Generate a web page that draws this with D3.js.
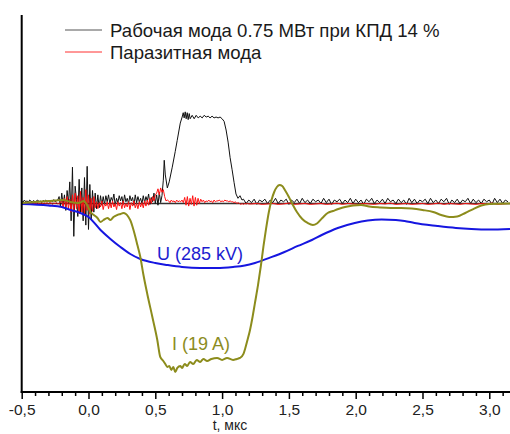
<!DOCTYPE html>
<html>
<head>
<meta charset="utf-8">
<script src="https://cdn.jsdelivr.net/npm/d3@7"></script>
<style>
  html, body { margin: 0; padding: 0; background: #fff; }
  svg { display: block; font-family: "Liberation Sans", Arial, sans-serif; }
</style>
</head>
<body>
<script>
// ---------------- DATA ----------------
const xMajorTicks = [-0.5, 0, 0.5, 1, 1.5, 2, 2.5, 3];
const xLabel = "t, мкс";
const legendLabels = ["Рабочая мода 0.75 МВт при КПД 14 %", "Паразитная мода"];
const uLabel = "U (285 kV)";
const iLabel = "I (19 A)";

// Black trace (working mode), sampled segments
const blackLeadStart = -0.5, blackLeadStep = 0.01;
const blackLead = [
  0.03,0.01,0.04,0.02,0.03,0.015,0.04,0.025,0.02,0.035,
  0.015,0.03,0.04,0.02,0.03,0.01,0.035,0.025,0.04,0.02,
  0.03,0.015,0.035,0.02,0.045,0.02,0.03,0.04,
  0.08,-0.04,0.12,-0.02,0.1,-0.08,0.15,0.0,
  0.25,-0.2,0.42,-0.38,0.2,
  0.05,-0.15,0.28,-0.1,0.18,-0.2,0.3,
  -0.25,0.43,-0.3,0.22,-0.18,
  0.15,-0.1,0.12,-0.06,0.1,-0.05,0.09,-0.02,
  0.08,-0.01,0.09,0.02,0.1,0.0,0.07,0.03,0.11,-0.02,
  0.06,0.01,0.09,0.03,0.08,-0.01,0.1,0.02,0.06,0.0,
  0.09,0.03,0.07,-0.02,0.1,0.01,0.08,0.02,0.06,0.0,
  0.09,0.01,0.08,0.03,0.11,-0.01,0.07,0.02,0.12,0.0,
  0.1,-0.02,0.13,0.01,0.09
];
const blackPulseT = [0.56,0.567,0.575,0.59,0.604,0.627,0.649,0.664,0.687,0.701,0.709,0.716,0.724,0.731,0.739,0.746,0.754,0.761,0.776,0.791,0.806,0.821,0.836,0.851,0.866,0.881,0.896,0.91,0.925,0.94,0.955,0.97,0.985,1.0,1.015,1.03,1.045,1.06,1.075,1.09,1.104,1.119,1.134,1.149];
const blackPulseV = [0.27,0.5,0.33,0.18,0.25,0.42,0.6,0.73,0.93,1.0,1.05,0.99,1.06,0.98,1.05,0.97,1.04,0.98,1.02,0.98,1.02,0.99,1.01,0.99,1.02,1.0,1.01,0.99,1.01,0.99,1.0,0.99,1.0,0.98,0.95,0.85,0.71,0.53,0.39,0.24,0.11,0.06,0.09,0.04];
const blackTailStart = 1.16, blackTailStep = 0.02;
const blackTail = [
  0.05,0.0,0.04,0.01,0.05,-0.01,0.04,0.02,0.05,0.0,
  0.04,0.01,0.06,0.0,0.04,0.02,0.05,-0.01,0.04,0.01,
  0.05,0.0,0.06,0.01,0.04,0.0,0.05,0.02,0.04,0.0,
  0.06,0.01,0.05,-0.01,0.04,0.02,0.05,0.0,0.04,0.01,
  0.06,0.0,0.05,0.01,0.04,-0.01,0.05,0.02,0.06,0.0,
  0.04,0.01,0.05,0.0,0.06,0.02,0.04,0.0,0.05,0.01,
  0.04,-0.01,0.06,0.01,0.05,0.0,0.04,0.02,0.05,0.0,
  0.06,0.01,0.04,0.0,0.05,0.02,0.06,-0.01,0.04,0.01,
  0.05,0.0,0.04,0.02,0.06,0.0,0.05,0.01,0.04,0.0,
  0.05,0.02,0.04,-0.01,0.06,0.01,0.05,0.0,0.04,0.02
];

// Red trace (parasitic mode)
const redLeadStart = -0.5, redLeadStep = 0.01;
const redLead = [
  0.0,0.01,-0.01,0.005,0.0,0.01,-0.005,0.0,0.01,-0.01,
  0.005,0.0,0.01,-0.005,0.0,0.01,-0.01,0.005,0.0,0.01,
  -0.005,0.0,0.01,-0.01,0.005,0.0,0.01,-0.005,0.0,0.01,
  0.03,-0.05,0.06,-0.04,0.08,-0.06,0.05,-0.1,0.1,-0.08,
  0.12,-0.06,0.09,-0.12,0.14,-0.1,0.07,-0.13,0.16,-0.08,
  0.1,-0.12,0.06,-0.09,0.08,-0.05,
  0.02,-0.06,0.01,-0.04,0.03,-0.07,0.0,-0.03,0.02,-0.06,
  0.01,-0.05,0.03,-0.04,0.0,-0.07,0.02,-0.03,0.01,-0.06,
  0.03,-0.05,0.0,-0.04,0.02,-0.07,0.01,-0.03,0.03,-0.05,
  0.0,-0.06,0.02,-0.04,0.01,-0.05,0.03,-0.03,0.04,-0.02,
  0.06,0.0,0.08,0.03,0.1
];
const redBumpT = [0.51,0.52,0.53,0.54,0.55,0.56,0.57,0.58,0.59];
const redBumpV = [0.12,0.17,0.1,0.18,0.13,0.16,0.08,0.03,0.04];
const redMidStart = 0.60, redMidStep = 0.01;
const redMid = [
  0.03,0.01,0.04,0.02,0.03,0.01,0.04,0.02,0.03,0.02,0.04,0.01,
  0.07,-0.02,0.08,-0.03,0.06,-0.01,0.09,-0.03,0.07,-0.02,0.06,0.0,0.05,
  0.02,0.04,0.01,0.03,0.02,0.04,0.02,0.03,0.01,0.04,
  0.02,0.03,0.03,0.04,0.02,0.03,0.02,0.04,0.03,0.03,
  0.02,0.03,0.02,0.02,0.01,0.02,0.0,0.01,0.0,-0.01,
  0.0,-0.01,0.0,-0.005,0.0,-0.005
];
const redTailStart = 1.22, redTailStep = 0.04;
const redTail = [
  -0.005,0.0,-0.01,-0.005,0.0,-0.01,-0.005,0.005,-0.01,-0.005,
  0.0,-0.01,-0.005,0.0,-0.01,-0.005,0.005,-0.01,0.0,-0.005,
  -0.01,0.0,-0.005,-0.01,0.0,-0.005,0.005,-0.01,-0.005,0.0,
  -0.01,-0.005,0.0,-0.01,-0.005,0.005,-0.01,0.0,-0.005,-0.01,
  0.0,-0.005,-0.01,0.0,-0.005,0.005,-0.01,-0.005,0.0
];

// Voltage U (blue)
const uT = [-0.5,-0.3,-0.2,-0.134,-0.06,0.0,0.09,0.164,0.239,0.313,0.388,0.5,0.59,0.7,0.836,0.96,1.082,1.17,1.246,1.373,1.467,1.567,1.672,1.746,1.866,1.993,2.09,2.194,2.3,2.366,2.44,2.612,2.75,2.866,3.0,3.155];
const uV = [-0.006,-0.023,-0.04,-0.075,-0.11,-0.156,-0.306,-0.41,-0.503,-0.584,-0.642,-0.688,-0.711,-0.734,-0.746,-0.746,-0.734,-0.717,-0.688,-0.618,-0.561,-0.491,-0.422,-0.364,-0.283,-0.225,-0.197,-0.185,-0.191,-0.202,-0.225,-0.26,-0.283,-0.295,-0.301,-0.295];

// Current I (olive)
const iT = [-0.5,-0.4,-0.3,-0.187,-0.134,-0.082,-0.06,-0.037,-0.015,0.0,0.015,0.04,0.067,0.09,0.112,0.142,0.164,0.187,0.215,0.239,0.261,0.28,0.299,0.315,0.328,0.351,0.366,0.388,0.41,0.44,0.478,0.515,0.537,0.56,0.575,0.59,0.605,0.62,0.635,0.649,0.665,0.687,0.7,0.72,0.739,0.76,0.784,0.81,0.836,0.86,0.888,0.92,0.963,1.0,1.037,1.082,1.11,1.134,1.16,1.172,1.19,1.209,1.228,1.246,1.269,1.29,1.31,1.33,1.35,1.37,1.39,1.41,1.43,1.45,1.47,1.5,1.53,1.56,1.6,1.64,1.68,1.71,1.75,1.79,1.83,1.87,1.92,1.98,2.04,2.1,2.18,2.26,2.34,2.42,2.5,2.58,2.64,2.7,2.76,2.82,2.88,2.94,3.0,3.155];
const iV = [0.006,0.017,0.029,0.04,0.017,0.006,0.012,0.029,-0.006,-0.052,-0.098,-0.133,-0.168,-0.214,-0.191,-0.168,-0.191,-0.156,-0.133,-0.121,-0.11,-0.121,-0.156,-0.202,-0.26,-0.387,-0.48,-0.618,-0.815,-1.046,-1.312,-1.578,-1.775,-1.821,-1.856,-1.89,-1.879,-1.925,-1.89,-1.948,-1.902,-1.879,-1.902,-1.856,-1.879,-1.832,-1.856,-1.809,-1.832,-1.798,-1.821,-1.798,-1.786,-1.809,-1.786,-1.809,-1.798,-1.786,-1.74,-1.682,-1.578,-1.462,-1.312,-1.15,-0.942,-0.723,-0.491,-0.283,-0.098,0.04,0.133,0.191,0.214,0.202,0.156,0.075,-0.017,-0.098,-0.179,-0.225,-0.249,-0.231,-0.168,-0.11,-0.087,-0.064,-0.04,-0.023,-0.017,-0.035,-0.046,-0.052,-0.052,-0.058,-0.075,-0.098,-0.133,-0.156,-0.15,-0.11,-0.064,-0.023,-0.006,0.0];

// ---------------- CHART ----------------
const W = 510, H = 434;
const svg = d3.select("body").append("svg").attr("width", W).attr("height", H);

const x = d3.scaleLinear().domain([-0.5, 3.155]).range([21.7, 510]);
const y = d3.scaleLinear().domain([-2.18, 2.18]).range([392, 15]);

function seg(start, step, vals) { return vals.map((v, i) => [start + i * step, v]); }
function pairs(ts, vs) { return ts.map((t, i) => [t, vs[i]]); }

const blackData = seg(blackLeadStart, blackLeadStep, blackLead)
  .concat(pairs(blackPulseT, blackPulseV))
  .concat(seg(blackTailStart, blackTailStep, blackTail));
const redData = seg(redLeadStart, redLeadStep, redLead)
  .concat(pairs(redBumpT, redBumpV))
  .concat(seg(redMidStart, redMidStep, redMid))
  .concat(seg(redTailStart, redTailStep, redTail));
const uData = pairs(uT, uV);
const iData = pairs(iT, iV);

const lineLin = d3.line().x(d => x(d[0])).y(d => y(d[1]));
const lineSmooth = d3.line().x(d => x(d[0])).y(d => y(d[1])).curve(d3.curveMonotoneX);

// zero reference line
svg.append("line")
  .attr("x1", x(-0.5)).attr("x2", x(3.155))
  .attr("y1", y(0)).attr("y2", y(0))
  .attr("stroke", "#333").attr("stroke-width", 1.3);

// noisy traces
svg.append("path").datum(blackData).attr("d", lineLin)
  .attr("fill", "none").attr("stroke", "#111").attr("stroke-width", 1);
svg.append("path").datum(redData).attr("d", lineLin)
  .attr("fill", "none").attr("stroke", "#ff1010").attr("stroke-width", 1);

// smooth traces
svg.append("path").datum(uData).attr("d", lineSmooth)
  .attr("fill", "none").attr("stroke", "#1616e0").attr("stroke-width", 2);
svg.append("path").datum(iData).attr("d", lineSmooth)
  .attr("fill", "none").attr("stroke", "#8c8c1c").attr("stroke-width", 2);

// curve labels
svg.append("text").attr("x", 157).attr("y", 260).attr("font-size", 18)
  .attr("fill", "#1c1cd0").text(uLabel);
svg.append("text").attr("x", 172).attr("y", 350).attr("font-size", 18)
  .attr("fill", "#8c8c22").text(iLabel);

// axes
svg.append("line").attr("x1", 21.7).attr("x2", 21.7).attr("y1", 15).attr("y2", 393)
  .attr("stroke", "#000").attr("stroke-width", 2);
svg.append("line").attr("x1", 20.7).attr("x2", 510).attr("y1", 392).attr("y2", 392)
  .attr("stroke", "#000").attr("stroke-width", 2);

const minorTicks = d3.range(-5, 32).map(k => k / 10).filter(v => !xMajorTicks.some(m => Math.abs(m - v) < 1e-9));
const gMinor = svg.append("g").attr("transform", "translate(0,392)")
  .call(d3.axisBottom(x).tickValues(minorTicks).tickSize(4).tickFormat(""));
gMinor.select(".domain").remove();
gMinor.selectAll("line").attr("stroke", "#000").attr("stroke-width", 1.5);

const gMajor = svg.append("g").attr("transform", "translate(0,392)")
  .call(d3.axisBottom(x).tickValues(xMajorTicks).tickSize(7).tickPadding(5)
    .tickFormat(d => d.toFixed(1).replace(".", ",")));
gMajor.select(".domain").remove();
gMajor.selectAll("line").attr("stroke", "#000").attr("stroke-width", 1.5);
gMajor.selectAll("text").attr("font-size", 15.5).attr("fill", "#222")
  .attr("font-family", "Liberation Sans, Arial, sans-serif");

svg.append("text").attr("x", 230).attr("y", 430).attr("text-anchor", "middle")
  .attr("font-size", 14).attr("fill", "#222").text(xLabel);

// legend
const legendColors = ["#555", "#ff3030"];
legendLabels.forEach((lab, i) => {
  const ly = 30 + i * 22;
  svg.append("line").attr("x1", 65).attr("x2", 102).attr("y1", ly).attr("y2", ly)
    .attr("stroke", legendColors[i]).attr("stroke-width", 1);
  svg.append("text").attr("x", 110).attr("y", ly + 6.5).attr("font-size", 18.6)
    .attr("fill", "#1a1a1a").text(lab);
});
</script>
</body>
</html>
